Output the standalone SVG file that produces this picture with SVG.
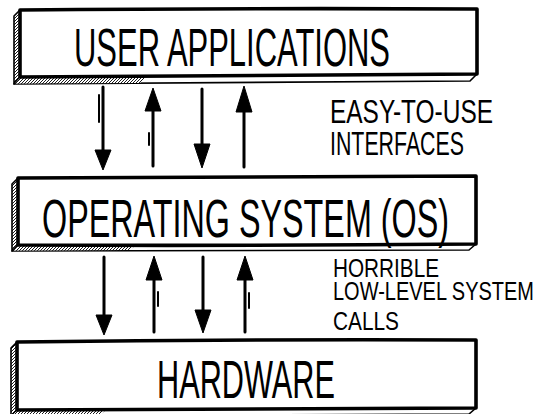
<svg xmlns="http://www.w3.org/2000/svg" width="537" height="414" viewBox="0 0 537 414">
  <style>
    .front { fill: #ffffff; stroke: #000000; stroke-width: 3.6; stroke-linejoin: round; }
    .side { fill: url(#hatch); stroke: #000000; stroke-width: 1.6; stroke-linejoin: round; }
    .bottom { fill: #ffffff; stroke: #000000; stroke-width: 1.6; stroke-linejoin: round; }
    .hatchfill { fill: url(#hatch); stroke: none; }
    .title, .label { font-family: "Liberation Sans", Arial, sans-serif; fill: #000000; }
    .shaft { stroke: #000000; stroke-width: 3; fill: none; stroke-linecap: round; }
    .tick { stroke: #000000; stroke-width: 2; fill: none; stroke-linecap: round; }
    .head { fill: #000000; stroke: #000000; stroke-width: 1; stroke-linejoin: round; }
  </style>
  <defs>
    <pattern id="hatch" patternUnits="userSpaceOnUse" width="3" height="3">
      <rect width="3" height="3" fill="#ffffff"/>
      <path d="M-1,1 L1,-1 M0,3 L3,0 M2,4 L4,2" stroke="#000000" stroke-width="0.9"/>
    </pattern>
  </defs>

  <rect width="537" height="414" fill="#ffffff"/>

  <g id="node-user-applications">
    <polygon class="side" points="20,10 14,16 14,84 20,77"/>
    <polygon class="bottom" points="20,77 14,84 470,81 477,74"/>
    <polygon class="hatchfill" points="20,78 15,83.5 140,83 146,77"/>
    <path class="front" d="M20,10 Q240,8 477,9 L477,74 Q250,75 20,77 Z"/>
    <text class="title" transform="translate(74,66) scale(1,1.77)" x="0" y="0" font-size="30.5" textLength="316" lengthAdjust="spacingAndGlyphs">USER APPLICATIONS</text>
  </g>

  <g id="node-operating-system">
    <polygon class="side" points="18,178 12,184 12,251 18,245"/>
    <polygon class="bottom" points="18,245 12,251 469,250 476,244"/>
    <polygon class="hatchfill" points="18,246 13,250.5 130,250 136,245"/>
    <path class="front" d="M18,178 Q250,176 476,176 L476,244 Q240,246 18,245 Z"/>
    <text class="title" transform="translate(42,237) scale(1,1.69)" x="0" y="0" font-size="32" textLength="407" lengthAdjust="spacingAndGlyphs">OPERATING SYSTEM (OS)</text>
  </g>

  <g id="node-hardware">
    <polygon class="side" points="17,342 11,348 11,416 17,410"/>
    <polygon class="bottom" points="17,410 11,416 469,414 476,408"/>
    <polygon class="hatchfill" points="17,411 12,415.5 100,415 106,410"/>
    <path class="front" d="M17,342 Q250,339 476,340 L476,408 Q240,410 17,410 Z"/>
    <text class="title" transform="translate(157,398) scale(1,1.77)" x="0" y="0" font-size="30.5" textLength="178" lengthAdjust="spacingAndGlyphs">HARDWARE</text>
  </g>

  <g id="connectors">
    <line class="shaft" x1="103" y1="87" x2="103" y2="152"/>
    <polygon class="head" points="95,150 111,150 103,170"/>
    <line class="tick" x1="99" y1="95" x2="99" y2="122"/>

    <line class="shaft" x1="153" y1="108" x2="153" y2="166"/>
    <polygon class="head" points="145,111 161,111 153,88"/>
    <line class="tick" x1="149" y1="133" x2="149" y2="145"/>

    <line class="shaft" x1="202" y1="89" x2="202" y2="146"/>
    <polygon class="head" points="194,144 210,144 202,168"/>

    <line class="shaft" x1="244" y1="108" x2="244" y2="167"/>
    <polygon class="head" points="236,112 252,112 244,86"/>

    <line class="shaft" x1="104" y1="257" x2="104" y2="317"/>
    <polygon class="head" points="96,315 112,315 104,335"/>

    <line class="shaft" x1="154" y1="276" x2="154" y2="332"/>
    <polygon class="head" points="146,280 162,280 154,256"/>
    <line class="tick" x1="158" y1="292" x2="158" y2="306"/>

    <line class="shaft" x1="203" y1="257" x2="203" y2="312"/>
    <polygon class="head" points="195,310 211,310 203,333"/>

    <line class="shaft" x1="245" y1="276" x2="245" y2="332"/>
    <polygon class="head" points="237,280 253,280 245,256"/>
    <line class="tick" x1="249" y1="293" x2="249" y2="308"/>
  </g>

  <g id="labels">
    <text class="label" transform="translate(330,123) scale(1,1.375)" x="0" y="0" font-size="24" textLength="163" lengthAdjust="spacingAndGlyphs">EASY-TO-USE</text>
    <text class="label" transform="translate(330,155) scale(1,1.4)" x="0" y="0" font-size="23.5" textLength="134" lengthAdjust="spacingAndGlyphs">INTERFACES</text>
    <text class="label" transform="translate(333,277) scale(1,1.255)" x="0" y="0" font-size="20.7" textLength="106" lengthAdjust="spacingAndGlyphs">HORRIBLE</text>
    <text class="label" transform="translate(333,300) scale(1,1.3)" x="0" y="0" font-size="20" textLength="201" lengthAdjust="spacingAndGlyphs">LOW-LEVEL SYSTEM</text>
    <text class="label" transform="translate(333,330) scale(1,1.24)" x="0" y="0" font-size="21" textLength="66" lengthAdjust="spacingAndGlyphs">CALLS</text>
  </g>
</svg>
